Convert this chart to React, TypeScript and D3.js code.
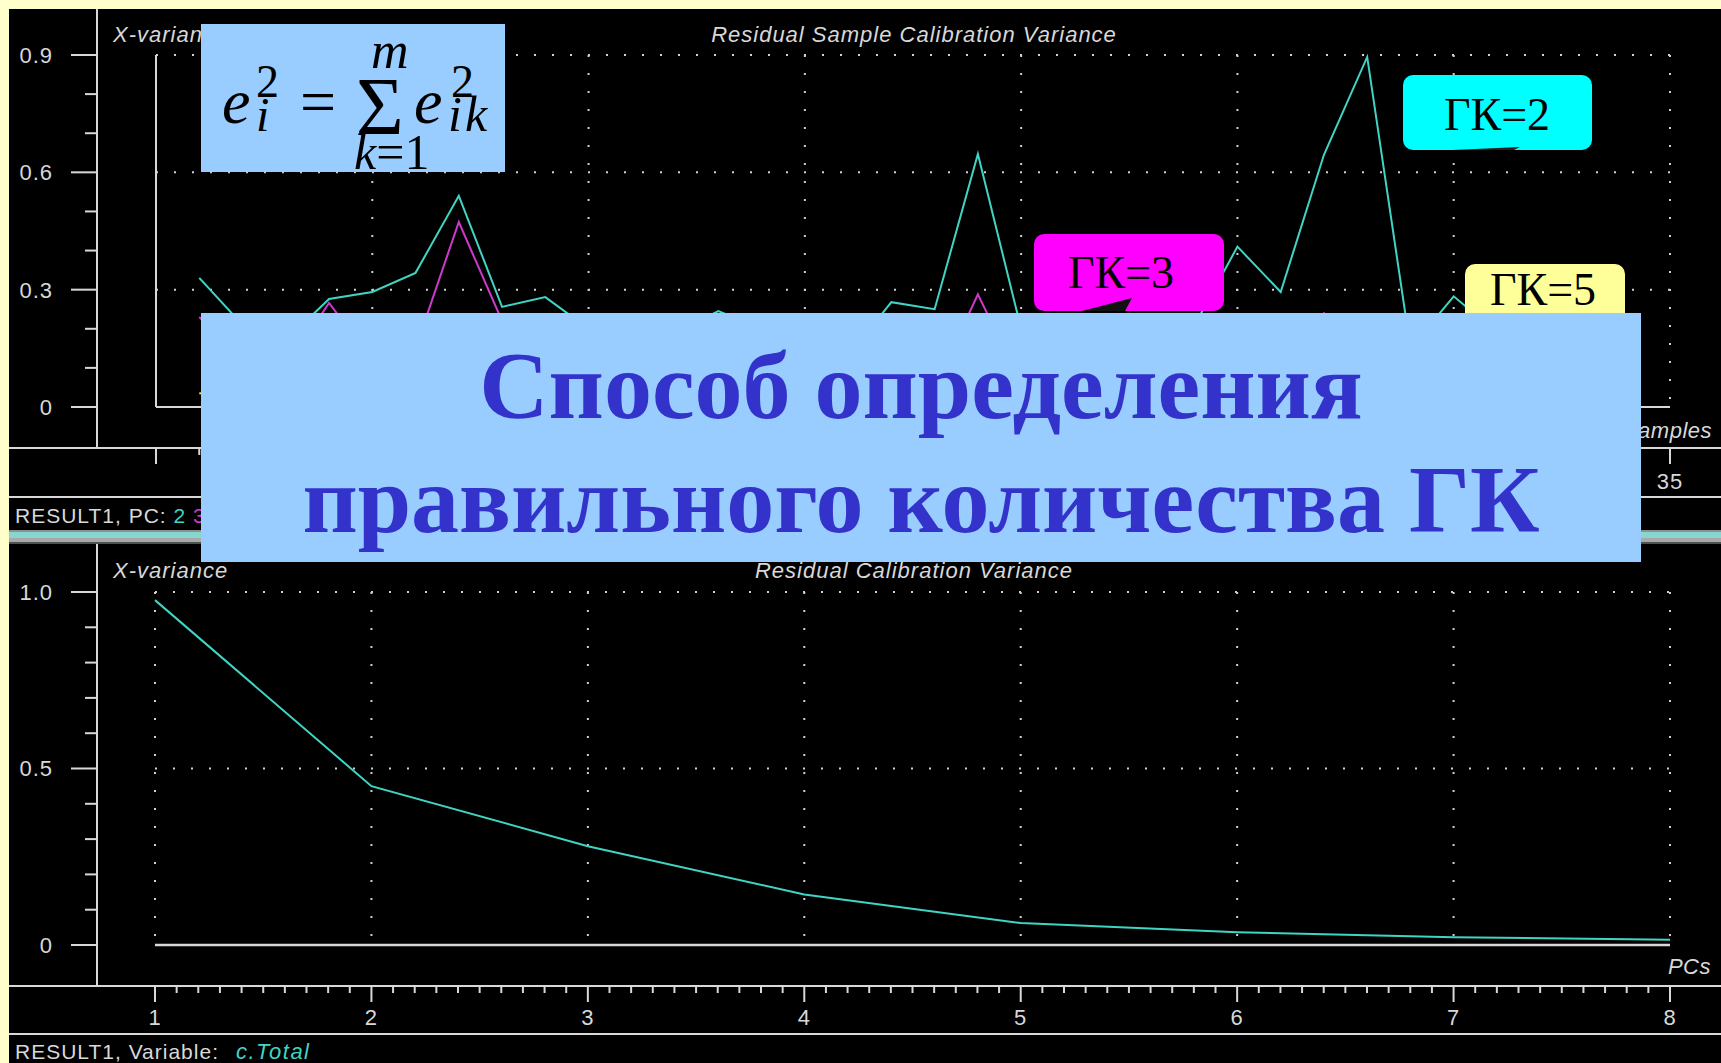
import React from 'react';
import * as d3 from 'd3';

const W = 1721;
const H = 1063;

// ---------- data: top chart (Residual Sample Calibration Variance) ----------
const topYTickValues = [0, 0.3, 0.6, 0.9];
const topYTickLabels = ['0', '0.3', '0.6', '0.9'];
const topXTickValues = [5, 10, 15, 20, 25, 30, 35];
const topXTickLabels = ['5', '10', '15', '20', '25', '30', '35'];

const pc2Residual = [0.33, 0.21, 0.17, 0.276, 0.294, 0.343, 0.54, 0.256, 0.281, 0.2, 0.17, 0.19, 0.245, 0.2, 0.17, 0.13, 0.268, 0.25, 0.647, 0.2, 0.19, 0.17, 0.2, 0.207, 0.41, 0.294, 0.645, 0.895, 0.15, 0.283, 0.19, 0.16, 0.18, 0.15];
const pc3Residual = [0.23, 0.12, 0.1, 0.266, 0.12, 0.15, 0.473, 0.22, 0.11, 0.1, 0.09, 0.1, 0.12, 0.1, 0.09, 0.1, 0.12, 0.05, 0.288, 0.06, 0.1, 0.09, 0.1, 0.1, 0.14, 0.12, 0.24, 0.13, 0.1, 0.11, 0.09, 0.1, 0.08, 0.09];
const pc5Residual = [0.035, 0.03, 0.04, 0.05, 0.04, 0.06, 0.08, 0.05, 0.04, 0.03, 0.04, 0.05, 0.04, 0.03, 0.04, 0.05, 0.06, 0.04, 0.07, 0.04, 0.03, 0.04, 0.05, 0.04, 0.06, 0.05, 0.07, 0.08, 0.04, 0.05, 0.04, 0.03, 0.04, 0.03];

// ---------- data: bottom chart (Residual Calibration Variance) ----------
const pcNumbers = [1, 2, 3, 4, 5, 6, 7, 8];
const pcLabels = ['1', '2', '3', '4', '5', '6', '7', '8'];
const calibrationVariance = [0.977, 0.45, 0.28, 0.143, 0.062, 0.036, 0.022, 0.015];
const botYTickValues = [0, 0.5, 1.0];
const botYTickLabels = ['0', '0.5', '1.0'];

const UI = "'Liberation Sans', Arial, sans-serif";
const SERIF = "'Liberation Serif', 'Times New Roman', serif";
const AXIS = '#d8d8d8';
const DOT = '#d0d0d0';
const CYAN = '#40d4c4';
const MAGENTA = '#cc3acc';
const YELLOW = '#e6e650';

const uiText = { fill: AXIS, fontFamily: UI, fontSize: 22, letterSpacing: 1 } as const;

export default function App() {
  const xTop = d3.scaleLinear().domain([0, 35]).range([156, 1670]);
  const yTop = d3.scaleLinear().domain([0, 0.9]).range([407, 55]);
  const xBot = d3.scaleLinear().domain([1, 8]).range([155, 1670]);
  const yBot = d3.scaleLinear().domain([0, 1]).range([945, 592]);

  const topLine = d3
    .line<number>()
    .x((_, i) => xTop(i + 1))
    .y((d) => yTop(d));
  const botLine = d3
    .line<number>()
    .x((_, i) => xBot(pcNumbers[i]))
    .y((d) => yBot(d));

  const topSeries = [
    { name: '5', color: YELLOW, values: pc5Residual },
    { name: '3', color: MAGENTA, values: pc3Residual },
    { name: '2', color: CYAN, values: pc2Residual },
  ];

  const topYMinor = yTop.ticks(9);
  const topXMinor = xTop.ticks(35);
  const botYMinor = yBot.ticks(10);
  const botXMinor = xBot.ticks(70);

  const outerX = 97;
  const topAxisY = 448;
  const botAxisY = 986;

  return (
    <svg
      width={W}
      height={H}
      viewBox={`0 0 ${W} ${H}`}
      style={{ position: 'absolute', left: 0, top: 0, display: 'block' }}
    >
      <rect x={0} y={0} width={W} height={H} fill="#FFFFCC" />
      <rect x={9} y={9} width={W - 9} height={H - 9} fill="#000" />

      {/* ================= TOP CHART ================= */}
      <g>
        {topYTickValues.filter((v) => v > 0).map((v) => (
          <line key={'tgh' + v} x1={xTop(0)} x2={xTop(35)} y1={yTop(v)} y2={yTop(v)} stroke={DOT} strokeWidth={2} strokeDasharray="2,16" />
        ))}
        {topXTickValues.map((v) => (
          <line key={'tgv' + v} x1={xTop(v)} x2={xTop(v)} y1={yTop(0.9)} y2={yTop(0)} stroke={DOT} strokeWidth={2} strokeDasharray="2,16" />
        ))}
        <line x1={xTop(0)} x2={xTop(0)} y1={yTop(0.9)} y2={yTop(0)} stroke={AXIS} strokeWidth={2} />
        <line x1={xTop(0)} x2={xTop(35)} y1={yTop(0)} y2={yTop(0)} stroke={AXIS} strokeWidth={2} />
        <line x1={outerX} x2={outerX} y1={9} y2={topAxisY} stroke={AXIS} strokeWidth={2} />
        <line x1={9} x2={W} y1={topAxisY} y2={topAxisY} stroke={AXIS} strokeWidth={2} />
        {topYMinor.map((v) => {
          const major = topYTickValues.some((t) => Math.abs(t - v) < 1e-9);
          return <line key={'tym' + v} x1={major ? 71 : 85} x2={outerX} y1={yTop(v)} y2={yTop(v)} stroke={AXIS} strokeWidth={2} />;
        })}
        {topYTickValues.map((v, i) => (
          <text key={'tyl' + v} x={53} y={yTop(v)} dy="0.36em" textAnchor="end" {...uiText}>
            {topYTickLabels[i]}
          </text>
        ))}
        {topXMinor.map((v) => {
          const major = v % 5 === 0;
          return <line key={'txm' + v} x1={xTop(v)} x2={xTop(v)} y1={topAxisY} y2={topAxisY + (major ? 16 : 7)} stroke={AXIS} strokeWidth={2} />;
        })}
        {topXTickValues.map((v, i) => (
          <text key={'txl' + v} x={xTop(v)} y={481} dy="0.36em" textAnchor="middle" {...uiText}>
            {topXTickLabels[i]}
          </text>
        ))}
        <text x={1712} y={430} dy="0.36em" textAnchor="end" {...uiText} letterSpacing={0.5} fontStyle="italic">Samples</text>
        <text x={113} y={34} dy="0.36em" {...uiText} fontStyle="italic">X-variance</text>
        <text x={914} y={34} dy="0.36em" textAnchor="middle" {...uiText} fontStyle="italic">Residual Sample Calibration Variance</text>

        {topSeries.map((s) => (
          <path key={'ts' + s.name} d={topLine(s.values) || ''} fill="none" stroke={s.color} strokeWidth={2} />
        ))}

        <line x1={9} x2={W} y1={497} y2={497} stroke={AXIS} strokeWidth={2} />
        <text x={15} y={515} dy="0.36em" {...uiText} fontSize={21}>
          RESULT1, PC:{' '}
          <tspan fill={CYAN}>2</tspan> <tspan fill={MAGENTA}>3</tspan> <tspan fill={YELLOW}>5</tspan>
        </text>
      </g>

      {/* splitter */}
      <rect x={9} y={530} width={W - 9} height={2} fill="#909090" />
      <rect x={9} y={532} width={W - 9} height={6} fill="#86d6d2" />
      <rect x={9} y={538} width={W - 9} height={4} fill="#a8a8a8" />
      <rect x={9} y={542} width={W - 9} height={2} fill="#505050" />

      {/* ================= BOTTOM CHART ================= */}
      <g>
        {botYTickValues.filter((v) => v > 0).map((v) => (
          <line key={'bgh' + v} x1={xBot(1)} x2={xBot(8)} y1={yBot(v)} y2={yBot(v)} stroke={DOT} strokeWidth={2} strokeDasharray="2,16" />
        ))}
        {pcNumbers.map((v) => (
          <line key={'bgv' + v} x1={xBot(v)} x2={xBot(v)} y1={yBot(1)} y2={yBot(0)} stroke={DOT} strokeWidth={2} strokeDasharray="2,16" />
        ))}
        <line x1={xBot(1)} x2={xBot(8)} y1={yBot(0)} y2={yBot(0)} stroke={AXIS} strokeWidth={2.5} />
        <line x1={outerX} x2={outerX} y1={544} y2={botAxisY} stroke={AXIS} strokeWidth={2} />
        <line x1={9} x2={W} y1={botAxisY} y2={botAxisY} stroke={AXIS} strokeWidth={2} />
        {botYMinor.map((v) => {
          const major = botYTickValues.some((t) => Math.abs(t - v) < 1e-9);
          return <line key={'bym' + v} x1={major ? 71 : 85} x2={outerX} y1={yBot(v)} y2={yBot(v)} stroke={AXIS} strokeWidth={2} />;
        })}
        {botYTickValues.map((v, i) => (
          <text key={'byl' + v} x={53} y={yBot(v)} dy="0.36em" textAnchor="end" {...uiText}>
            {botYTickLabels[i]}
          </text>
        ))}
        {botXMinor.map((v) => {
          const major = Math.abs(v - Math.round(v)) < 1e-9;
          return <line key={'bxm' + v} x1={xBot(v)} x2={xBot(v)} y1={botAxisY} y2={botAxisY + (major ? 16 : 7)} stroke={AXIS} strokeWidth={2} />;
        })}
        {pcNumbers.map((v, i) => (
          <text key={'bxl' + v} x={xBot(v)} y={1017} dy="0.36em" textAnchor="middle" {...uiText}>
            {pcLabels[i]}
          </text>
        ))}
        <text x={1711} y={966} dy="0.36em" textAnchor="end" {...uiText} letterSpacing={0.5} fontStyle="italic">PCs</text>
        <text x={113} y={570} dy="0.36em" {...uiText} fontStyle="italic">X-variance</text>
        <text x={914} y={570} dy="0.36em" textAnchor="middle" {...uiText} fontStyle="italic">Residual Calibration Variance</text>

        <path d={botLine(calibrationVariance) || ''} fill="none" stroke={CYAN} strokeWidth={2} />

        <line x1={9} x2={W} y1={1034} y2={1034} stroke={AXIS} strokeWidth={2} />
        <text x={15} y={1051} dy="0.36em" {...uiText} fontSize={21}>RESULT1, Variable:</text>
        <text x={236} y={1051} dy="0.36em" {...uiText} letterSpacing={1.5} fill={CYAN} fontStyle="italic">c.Total</text>
      </g>

      {/* ================= OVERLAYS ================= */}
      <rect x={201} y={24} width={304} height={148} fill="#99CCFF" />
      <g fontFamily={SERIF} fill="#000">
        <text x={222} y={123} fontSize={64} fontStyle="italic">e</text>
        <text x={256} y={97} fontSize={46}>2</text>
        <text x={256} y={131} fontSize={48} fontStyle="italic">i</text>
        <text x={300} y={123} fontSize={64}>=</text>
        <text x={356} y={134} fontSize={82}>Σ</text>
        <text x={371} y={68} fontSize={52} fontStyle="italic">m</text>
        <text x={354} y={169} fontSize={50}>
          <tspan fontStyle="italic">k</tspan>=1
        </text>
        <text x={414} y={123} fontSize={64} fontStyle="italic">e</text>
        <text x={451} y={97} fontSize={46}>2</text>
        <text x={448} y={131} fontSize={50} letterSpacing={3} fontStyle="italic">ik</text>
      </g>

      <rect x={1403} y={75} width={189} height={75} rx={10} fill="#00FFFF" />
      <path d="M1452,150 L1520,147 L1514,150 Z" fill="#222" />
      <text x={1497} y={130} textAnchor="middle" fontFamily={SERIF} fontSize={46} fill="#000">ГК=2</text>

      <rect x={1034} y={234} width={190} height={77} rx={10} fill="#FF00FF" />
      <path d="M1082,311 L1132,298 L1125,311 Z" fill="#111" />
      <text x={1121} y={288} textAnchor="middle" fontFamily={SERIF} fontSize={46} fill="#000">ГК=3</text>

      <rect x={1465} y={264} width={160} height={70} rx={10} fill="#FFFF99" />
      <text x={1543} y={305} textAnchor="middle" fontFamily={SERIF} fontSize={46} fill="#000">ГК=5</text>

      <rect x={201} y={313} width={1440} height={249} fill="#99CCFF" />
      <text x={921} y={418} textAnchor="middle" fontFamily={SERIF} fontWeight="bold" fontSize={96} fill="#3333CC">
        Способ определения
      </text>
      <text x={921} y={532} textAnchor="middle" fontFamily={SERIF} fontWeight="bold" fontSize={96} fill="#3333CC">
        правильного количества ГК
      </text>
    </svg>
  );
}
